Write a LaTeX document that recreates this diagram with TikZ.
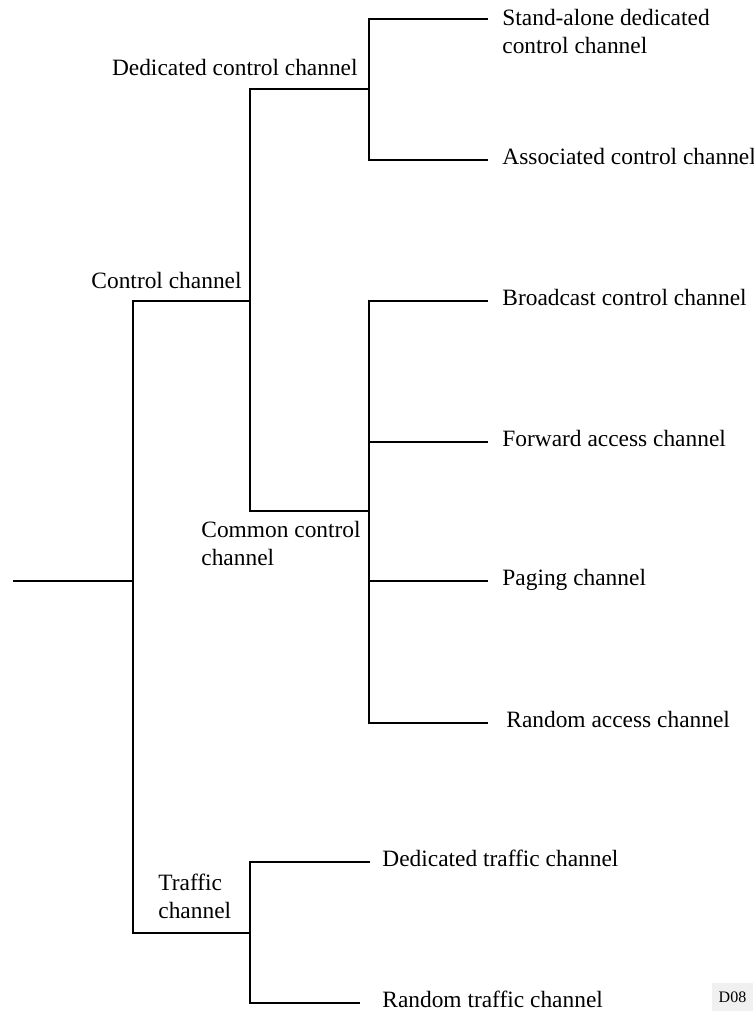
\documentclass[tikz,border=0pt]{standalone}
\usepackage{fontspec}
\setmainfont{Liberation Serif}
\tikzset{
	branch/.style={line width=1pt},
	leaf/.style={anchor=mid west,inner ysep=0pt,inner xsep=7pt},
	lbl/.style={inner sep=0pt,align=left}
}
\begin{document}
\begin{tikzpicture}[x=0.5pt,y=-0.5pt,font=\fontsize{11.7}{14}\selectfont]
	\useasboundingbox (0,0) rectangle (754,1014);
	
	% junctions
	\coordinate (in) at (13,581);
	\coordinate (r) at (133,581);
	\coordinate (c) at (250,301);
	\coordinate (d) at (369,89);
	\coordinate (m) at (369,511);
	\coordinate (t) at (250,933);
	\coordinate (sd) at (488,19);
	
	% leaves
	\node[lbl,anchor=north west] (sdcch) at (502,9) {Stand-alone dedicated\\control channel};
	\node[leaf] (sacch) at (488,160) {Associated control channel};
	\node[leaf] (bcch) at (488,301) {Broadcast control channel};
	\node[leaf] (fach) at (488,442) {Forward access channel};
	\node[leaf] (pch) at (488,581) {Paging channel};
	\node[leaf,inner xsep=9pt] (rach) at (488,723) {Random access channel};
	\node[leaf,inner xsep=6pt] (dtch) at (370,862) {Dedicated traffic channel};
	\node[leaf,inner xsep=11pt] (rtch) at (360,1003) {Random traffic channel};
	
	% inner labels
	\node[lbl,anchor=base east] (dcch) at (358,75) {Dedicated control channel};
	\node[lbl,anchor=base east] (ctl) at (242,288) {Control channel};
	\node[lbl,anchor=north west] (ccch) at (201,521) {Common control\\channel};
	\node[lbl,anchor=north west] (tch) at (158,874) {Traffic\\channel};
	
	% tree
	\draw[branch] (in) -- (r);
	\draw[branch] (c) -| (r) |- (t);
	\draw[branch] (d) -| (c) |- (m);
	\draw[branch] (sd) -| (d) |- (sacch.mid west);
	\draw[branch] (bcch.mid west) -| (m) |- (rach.mid west);
	\draw[branch] (fach.mid west) -- (fach.mid west -| m);
	\draw[branch] (pch.mid west) -- (pch.mid west -| m);
	\draw[branch] (dtch.mid west) -| (t) |- (rtch.mid west);
	
	\node[fill=gray!12,minimum width=20.5pt,minimum height=14pt,inner sep=0pt,font=\fontsize{8}{9}\selectfont] (tag) at (732.5,997) {D08};
	
\end{tikzpicture}
\end{document}
